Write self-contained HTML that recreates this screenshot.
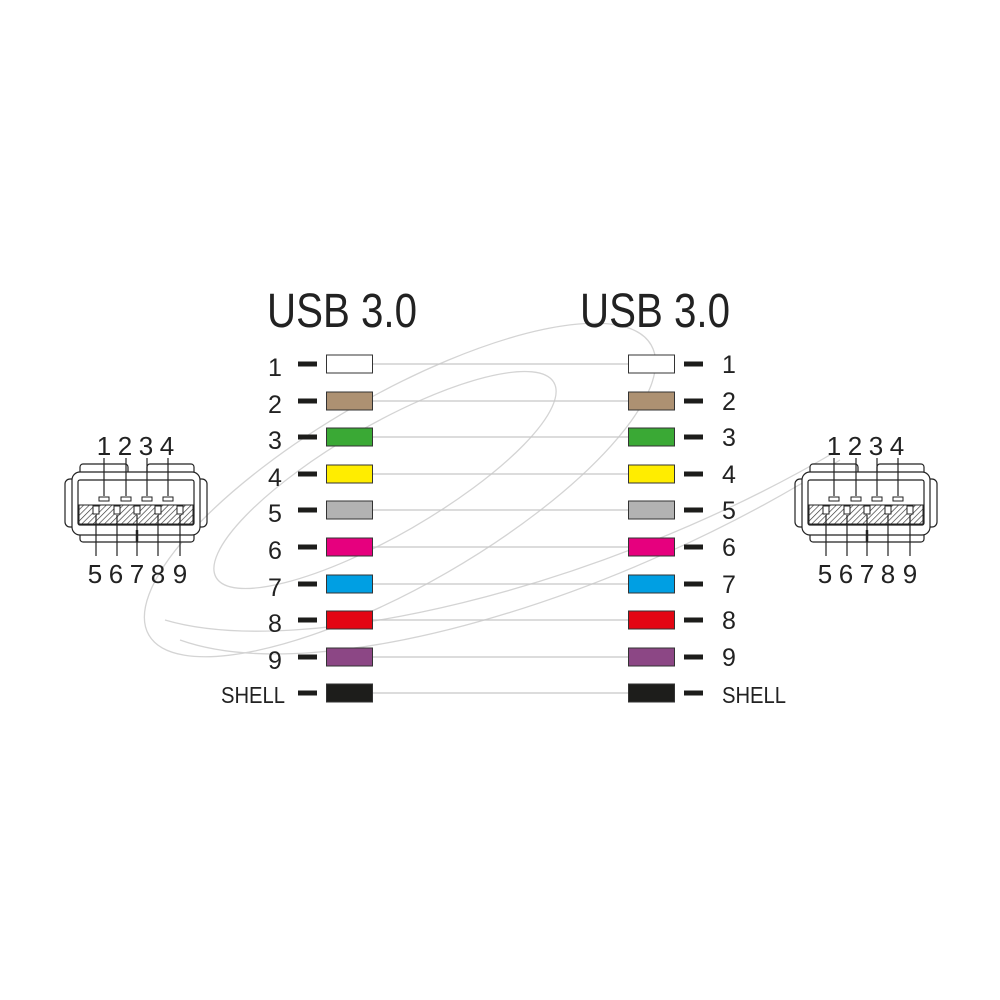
<!DOCTYPE html>
<html><head><meta charset="utf-8"><style>html,body{margin:0;padding:0;background:#fff}svg{display:block}</style></head><body>
<svg width="1000" height="1000" viewBox="0 0 1000 1000" xmlns="http://www.w3.org/2000/svg" font-family="Liberation Sans, sans-serif">
<defs>
<pattern id="h" width="4" height="4" patternUnits="userSpaceOnUse" patternTransform="rotate(45)">
<rect width="4" height="4" fill="#fff"/><line x1="0" y1="0" x2="0" y2="4" stroke="#333" stroke-width="1.3"/></pattern>
<g id="conn">
<path d="M72,479 h-2 a5,5 0 0 0 -5,5 v38 a5,5 0 0 0 5,5 h2 M200,479 h2 a5,5 0 0 1 5,5 v38 a5,5 0 0 1 -5,5 h-2" fill="none" stroke="#222" stroke-width="1.2"/>
<rect x="80" y="464" width="48" height="12" rx="3" fill="#fff" stroke="#222" stroke-width="1.2"/>
<rect x="147" y="464" width="47" height="12" rx="3" fill="#fff" stroke="#222" stroke-width="1.2"/>
<rect x="80" y="530" width="114" height="12" rx="3" fill="#fff" stroke="#222" stroke-width="1.2"/>
<rect x="72" y="472" width="128" height="63" rx="8" fill="#fff" stroke="#222" stroke-width="1.2"/>
<rect x="78" y="480" width="116" height="45" rx="2" fill="#fff" stroke="#222" stroke-width="1.2"/>
<rect x="79" y="505" width="114" height="19" fill="url(#h)" stroke="#222" stroke-width="1"/>
<g fill="#fff" stroke="#222" stroke-width="1">
<rect x="99" y="497" width="10" height="4"/><rect x="121" y="497" width="10" height="4"/><rect x="142" y="497" width="10" height="4"/><rect x="163" y="497" width="10" height="4"/>
<rect x="93" y="506" width="6" height="8"/><rect x="114" y="506" width="6" height="8"/><rect x="134" y="506" width="6" height="8"/><rect x="155" y="506" width="6" height="8"/><rect x="177" y="506" width="6" height="8"/>
</g>
<g stroke="#222" stroke-width="1.2">
<line x1="104" y1="458" x2="104" y2="496"/><line x1="126" y1="458" x2="126" y2="496"/><line x1="147" y1="458" x2="147" y2="496"/><line x1="168" y1="458" x2="168" y2="496"/>
<line x1="96" y1="515" x2="96" y2="556"/><line x1="117" y1="515" x2="117" y2="556"/><line x1="137" y1="515" x2="137" y2="556"/><line x1="158" y1="515" x2="158" y2="556"/><line x1="180" y1="515" x2="180" y2="556"/>
<line x1="137" y1="530" x2="137" y2="542" stroke-width="2.5"/>
</g>
<g font-size="26" fill="#222" text-anchor="middle">
<text x="104" y="455">1</text><text x="125" y="455">2</text><text x="146" y="455">3</text><text x="167" y="455">4</text>
<text x="95" y="583">5</text><text x="116" y="583">6</text><text x="137" y="583">7</text><text x="158" y="583">8</text><text x="180" y="583">9</text>
</g>
</g>
</defs>
<g fill="none" stroke="#d4d4d4" stroke-width="1.3">
<ellipse cx="400" cy="490" rx="290" ry="95" transform="rotate(-30 400 490)"/>
<ellipse cx="385" cy="480" rx="195" ry="55" transform="rotate(-30 385 480)"/>
<path d="M165,620 C300,660 600,590 835,452"/>
<path d="M180,640 C320,690 620,600 840,460"/>
</g>
<use href="#conn"/>
<use href="#conn" transform="translate(730,0)"/>
<g font-size="48" fill="#222">
<text x="267" y="327" textLength="150" lengthAdjust="spacingAndGlyphs">USB 3.0</text>
<text x="580" y="327" textLength="150" lengthAdjust="spacingAndGlyphs">USB 3.0</text>
</g>
<g stroke="#c8c8c8" stroke-width="1.2">
<line x1="373" y1="364" x2="628" y2="364"/><line x1="373" y1="401" x2="628" y2="401"/><line x1="373" y1="437" x2="628" y2="437"/><line x1="373" y1="474" x2="628" y2="474"/><line x1="373" y1="510" x2="628" y2="510"/><line x1="373" y1="547" x2="628" y2="547"/><line x1="373" y1="584" x2="628" y2="584"/><line x1="373" y1="620" x2="628" y2="620"/><line x1="373" y1="657" x2="628" y2="657"/><line x1="373" y1="693" x2="628" y2="693"/>
</g>
<g stroke="#333" stroke-width="1">
<rect x="326.5" y="355" width="46" height="18" fill="#ffffff"/><rect x="628.5" y="355" width="46" height="18" fill="#ffffff"/>
<rect x="326.5" y="392" width="46" height="18" fill="#ad9172"/><rect x="628.5" y="392" width="46" height="18" fill="#ad9172"/>
<rect x="326.5" y="428" width="46" height="18" fill="#3aa935"/><rect x="628.5" y="428" width="46" height="18" fill="#3aa935"/>
<rect x="326.5" y="465" width="46" height="18" fill="#ffed00"/><rect x="628.5" y="465" width="46" height="18" fill="#ffed00"/>
<rect x="326.5" y="501" width="46" height="18" fill="#b2b2b2"/><rect x="628.5" y="501" width="46" height="18" fill="#b2b2b2"/>
<rect x="326.5" y="538" width="46" height="18" fill="#e6007e"/><rect x="628.5" y="538" width="46" height="18" fill="#e6007e"/>
<rect x="326.5" y="575" width="46" height="18" fill="#009fe3"/><rect x="628.5" y="575" width="46" height="18" fill="#009fe3"/>
<rect x="326.5" y="611" width="46" height="18" fill="#e30613"/><rect x="628.5" y="611" width="46" height="18" fill="#e30613"/>
<rect x="326.5" y="648" width="46" height="18" fill="#8c4785"/><rect x="628.5" y="648" width="46" height="18" fill="#8c4785"/>
<rect x="326.5" y="684" width="46" height="18" fill="#1d1d1b"/><rect x="628.5" y="684" width="46" height="18" fill="#1d1d1b"/>
</g>
<g fill="#1d1d1b">
<rect x="298" y="361.5" width="19" height="5"/><rect x="684" y="361.5" width="19" height="5"/>
<rect x="298" y="398.5" width="19" height="5"/><rect x="684" y="398.5" width="19" height="5"/>
<rect x="298" y="434.5" width="19" height="5"/><rect x="684" y="434.5" width="19" height="5"/>
<rect x="298" y="471.5" width="19" height="5"/><rect x="684" y="471.5" width="19" height="5"/>
<rect x="298" y="507.5" width="19" height="5"/><rect x="684" y="507.5" width="19" height="5"/>
<rect x="298" y="544.5" width="19" height="5"/><rect x="684" y="544.5" width="19" height="5"/>
<rect x="298" y="581.5" width="19" height="5"/><rect x="684" y="581.5" width="19" height="5"/>
<rect x="298" y="617.5" width="19" height="5"/><rect x="684" y="617.5" width="19" height="5"/>
<rect x="298" y="654.5" width="19" height="5"/><rect x="684" y="654.5" width="19" height="5"/>
<rect x="298" y="690.5" width="19" height="5"/><rect x="684" y="690.5" width="19" height="5"/>
</g>
<g font-size="25" fill="#222" text-anchor="middle">
<text x="275" y="376">1</text><text x="275" y="413">2</text><text x="275" y="449">3</text><text x="275" y="486">4</text><text x="275" y="522">5</text><text x="275" y="559">6</text><text x="275" y="596">7</text><text x="275" y="632">8</text><text x="275" y="669">9</text>
<text x="729" y="373">1</text><text x="729" y="410">2</text><text x="729" y="446">3</text><text x="729" y="483">4</text><text x="729" y="519">5</text><text x="729" y="556">6</text><text x="729" y="593">7</text><text x="729" y="629">8</text><text x="729" y="666">9</text>
</g>
<g font-size="23" fill="#222">
<text x="221" y="703" textLength="64" lengthAdjust="spacingAndGlyphs">SHELL</text>
<text x="722" y="703" textLength="64" lengthAdjust="spacingAndGlyphs">SHELL</text>
</g>
</svg>
</body></html>
